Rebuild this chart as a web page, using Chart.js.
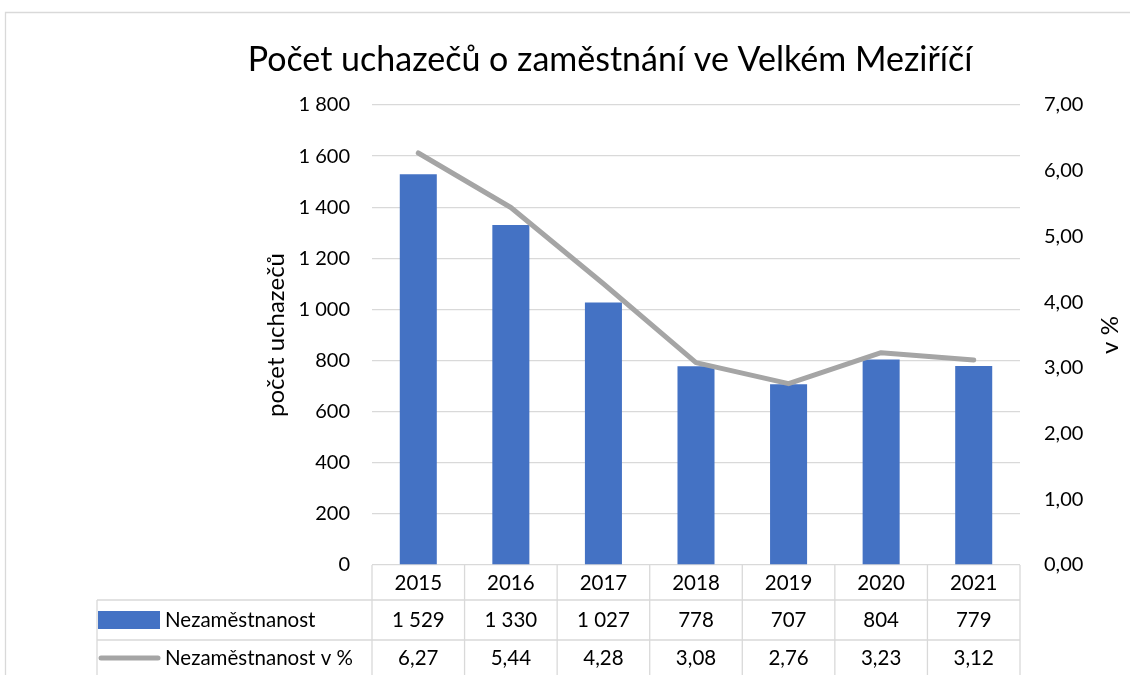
<!DOCTYPE html>
<html>
<head>
<meta charset="utf-8">
<script src="https://cdn.jsdelivr.net/npm/chart.js@4.4.1/dist/chart.umd.min.js"></script>
<style>
  html, body { margin: 0; padding: 0; background: #fff; }
  #obal { width: 1130px; height: 675px; }
</style>
</head>
<body>
<div id="obal"><canvas id="graf"></canvas></div>
<script>
// data z grafu
const roky = ['2015', '2016', '2017', '2018', '2019', '2020', '2021'];
const uchazeci = [1529, 1330, 1027, 778, 707, 804, 779];
const procenta = [6.27, 5.44, 4.28, 3.08, 2.76, 3.23, 3.12];
const nazvyRad = ['Nezaměstnanost', 'Nezaměstnanost v %'];

const pismo = 'Lato, "Liberation Sans", sans-serif';
const modra = '#4472C4';
const seda = '#A5A5A5';
const mrizka = '#D9D9D9';

// formatovani cisel po cesku
function tisice(v) {
    return String(Math.round(v)).replace(/\B(?=(\d{3})+(?!\d))/g, ' ');
}
function desetiny(v) {
    return v.toFixed(2).replace('.', ',');
}

// tabulka s daty pod grafem + popisky os + ramecek
const tabulka = {
    id: 'tabulka',
    beforeDraw(chart) {
        const ctx = chart.ctx;
        ctx.save();
        ctx.strokeStyle = mrizka;
        ctx.lineWidth = 1.3;
        ctx.beginPath();
        ctx.moveTo(5.5, chart.height);
        ctx.lineTo(5.5, 12.5);
        ctx.lineTo(chart.width, 12.5);
        ctx.stroke();
        ctx.restore();
    },
    afterDraw(chart) {
        const ctx = chart.ctx;
        const x = chart.scales.x;
        const ca = chart.chartArea;
        const pul = (x.getPixelForValue(1) - x.getPixelForValue(0)) / 2;
        const r1 = ca.bottom + 35;
        const r2 = ca.bottom + 75;
        const spodek = chart.height;
        const levo = 97;

        ctx.save();
        ctx.strokeStyle = mrizka;
        ctx.lineWidth = 1.3;
        ctx.beginPath();
        for (let i = 0; i <= roky.length; i++) {
            const xb = x.getPixelForValue(0) - pul + i * pul * 2;
            ctx.moveTo(xb, ca.bottom);
            ctx.lineTo(xb, spodek);
        }
        ctx.moveTo(levo, r1);
        ctx.lineTo(ca.right, r1);
        ctx.moveTo(levo, r2);
        ctx.lineTo(ca.right, r2);
        ctx.moveTo(levo, r1);
        ctx.lineTo(levo, spodek);
        ctx.stroke();

        ctx.fillStyle = '#000';
        ctx.font = '20.5px ' + pismo;
        ctx.textAlign = 'center';
        ctx.textBaseline = 'middle';
        roky.forEach((rok, i) => {
            const xc = x.getPixelForValue(i);
            ctx.fillText(rok, xc, ca.bottom + 18);
            ctx.fillText(tisice(uchazeci[i]), xc, r1 + 20);
            ctx.fillText(desetiny(procenta[i]), xc, r2 + 18);
        });

        // legenda v tabulce
        ctx.fillStyle = modra;
        ctx.fillRect(98, r1 + 11, 62, 18);
        ctx.strokeStyle = seda;
        ctx.lineWidth = 5;
        ctx.lineCap = 'round';
        ctx.beginPath();
        ctx.moveTo(101, r2 + 18);
        ctx.lineTo(158, r2 + 18);
        ctx.stroke();

        ctx.fillStyle = '#000';
        ctx.textAlign = 'left';
        ctx.fillText(nazvyRad[0], 165, r1 + 20);
        ctx.fillText(nazvyRad[1], 165, r2 + 18);

        // popisky os
        const yc = (ca.top + ca.bottom) / 2;
        ctx.font = '24px ' + pismo;
        ctx.textAlign = 'center';
        ctx.translate(276, yc);
        ctx.rotate(-Math.PI / 2);
        ctx.fillText('počet uchazečů', 0, 0);
        ctx.rotate(Math.PI / 2);
        ctx.translate(1110 - 276, 0);
        ctx.rotate(-Math.PI / 2);
        ctx.fillText('v %', 0, 0);
        ctx.restore();
    }
};

const ctx = document.getElementById('graf').getContext('2d');
const graf = new Chart(ctx, {
    data: {
        labels: roky,
        datasets: [{
            type: 'line',
            label: nazvyRad[1],
            data: procenta,
            yAxisID: 'y1',
            borderColor: seda,
            borderWidth: 5,
            borderCapStyle: 'round',
            borderJoinStyle: 'round',
            pointRadius: 0,
            tension: 0,
            order: 0
        }, {
            type: 'bar',
            label: nazvyRad[0],
            data: uchazeci,
            yAxisID: 'y',
            backgroundColor: modra,
            barPercentage: 0.4,
            categoryPercentage: 1.0,
            order: 1
        }]
    },
    options: {
        responsive: true,
        maintainAspectRatio: false,
        animation: false,
        layout: {
            padding: { left: 90, right: 0, top: 0, bottom: 110 }
        },
        plugins: {
            legend: { display: false },
            tooltip: { enabled: false },
            title: {
                display: true,
                text: 'Počet uchazečů o zaměstnání ve Velkém Meziříčí',
                color: '#000',
                font: { family: pismo, size: 34, weight: 'normal', lineHeight: 1.2 },
                padding: { top: 39.6, bottom: 24.6 }
            }
        },
        scales: {
            x: {
                display: false
            },
            y: {
                position: 'left',
                min: 0,
                max: 1800,
                afterFit(scale) { scale.width = 282; },
                border: { display: false },
                grid: { color: mrizka, lineWidth: 1.3, drawTicks: false },
                ticks: {
                    stepSize: 200,
                    padding: 22,
                    color: '#000',
                    font: { family: pismo, size: 20 },
                    callback: (v) => tisice(v)
                }
            },
            y1: {
                position: 'right',
                min: 0,
                max: 7,
                afterFit(scale) { scale.width = 110; },
                border: { display: false },
                grid: { display: false, drawTicks: false },
                ticks: {
                    stepSize: 1,
                    padding: 24,
                    color: '#000',
                    font: { family: pismo, size: 20 },
                    callback: (v) => desetiny(v)
                }
            }
        }
    },
    plugins: [tabulka]
});
</script>
</body>
</html>
